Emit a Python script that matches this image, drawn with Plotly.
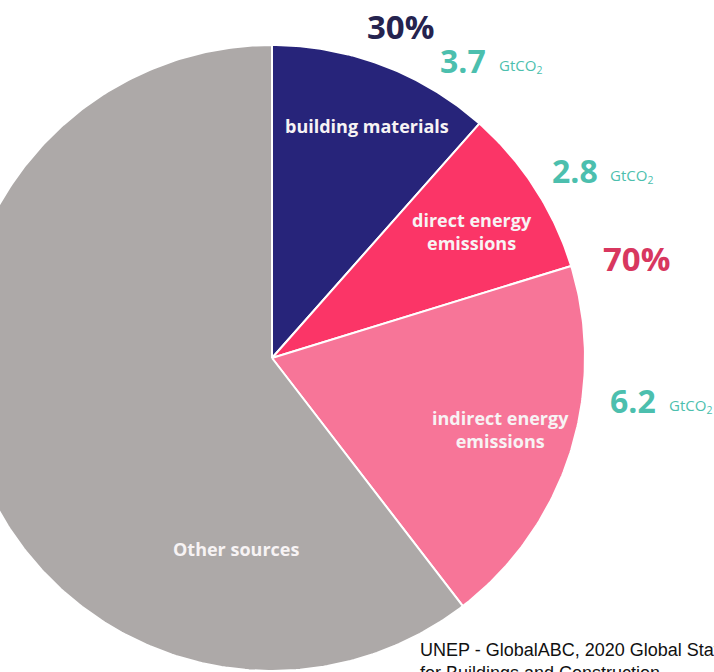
import numpy as np
import plotly.graph_objects as go

# ---- data ----
categories = ["building materials", "direct energy emissions", "indirect energy emissions", "Other sources"]
values_gt = [3.7, 2.8, 6.2, 19.4]          # GtCO2 (other sources)
slice_labels = ["building materials", "direct energy<br>emissions", "indirect energy<br>emissions", "Other sources"]
slice_colors = ["#27247A", "#FB3567", "#F77598", "#ADA9A8"]
value_labels = ["3.7", "2.8", "6.2"]
share_labels = ["30%", "70%"]
source_text = "UNEP - GlobalABC, 2020 Global Status Report<br>for Buildings and Construction"

# ---- geometry (pixel-space axes) ----
W, H = 714, 672
CX, CY, R = 272, 358, 313

fig = go.Figure()
total = sum(values_gt)
cum = np.cumsum([0] + values_gt) / total
for i, cat in enumerate(categories):
    a0, a1 = cum[i] * 2 * np.pi, cum[i + 1] * 2 * np.pi
    t = np.linspace(a0, a1, max(8, int((a1 - a0) * 80)))
    xs = np.concatenate([[CX], CX + R * np.sin(t), [CX]])
    ys = np.concatenate([[CY], CY - R * np.cos(t), [CY]])
    fig.add_trace(go.Scatter(x=xs, y=ys, mode="lines", fill="toself",
                             fillcolor=slice_colors[i],
                             line=dict(color="white", width=2),
                             name=cat, hoverinfo="name"))

label_font = dict(family="Open Sans", size=18, color="#F7F3F4", weight="bold")
label_pos = [(367, 126), (472, 231), (500, 429), (236, 549)]
for txt, (x, y) in zip(slice_labels, label_pos):
    fig.add_annotation(x=x, y=y, text=txt, showarrow=False, font=label_font,
                       xanchor="center", yanchor="middle")

teal = "#4CBFAE"
num_pos = [(488, 60), (600, 170), (658, 400)]
unit_pos = [(497, 66), (608, 176), (667, 406)]
for txt, (x, y), (ux, uy) in zip(value_labels, num_pos, unit_pos):
    fig.add_annotation(x=x, y=y, text=txt, showarrow=False,
                       font=dict(family="Open Sans", size=32, color=teal, weight="bold"),
                       xanchor="right", yanchor="middle")
    fig.add_annotation(x=ux, y=uy, text="GtCO<sub>2</sub>", showarrow=False,
                       font=dict(family="Open Sans", size=15, color=teal),
                       xanchor="left", yanchor="middle")

share_pos = [(400, 26), (636, 258)]
share_colors = ["#25234F", "#D8375F"]
for txt, (x, y), c in zip(share_labels, share_pos, share_colors):
    fig.add_annotation(x=x, y=y, text=txt, showarrow=False,
                       font=dict(family="Open Sans", size=33, color=c, weight="bold"),
                       xanchor="center", yanchor="middle")

fig.add_annotation(x=418, y=638, text=source_text, showarrow=False, align="left",
                   font=dict(family="Liberation Sans", size=18, color="#111111"),
                   xanchor="left", yanchor="top")

fig.update_layout(
    width=W, height=H, margin=dict(l=0, r=0, t=0, b=0),
    paper_bgcolor="white", plot_bgcolor="white", showlegend=False,
    xaxis=dict(range=[0, W], visible=False, fixedrange=True),
    yaxis=dict(range=[H, 0], visible=False, fixedrange=True),
)
fig.write_html("out.html")
